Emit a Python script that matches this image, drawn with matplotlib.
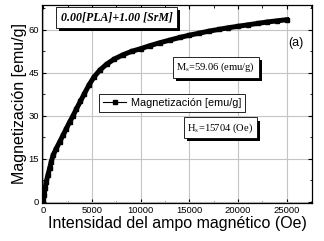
import matplotlib
matplotlib.use('Agg')
import matplotlib.pyplot as plt
import matplotlib.patheffects as pe
from matplotlib.lines import Line2D

# Data
field_oe = [0, 80, 200, 310, 480, 650, 820, 1000, 1330, 1680, 2020, 2360, 2700,
            3050, 3400, 3800, 4200, 4700, 5200, 5800, 6500, 7300, 8200, 9100,
            10000, 11000, 12000, 13000, 14000, 15000, 16000, 17000, 18000, 19000,
            20000, 21000, 22000, 23000, 24000, 25000]
magnetization = [0.5, 2.4, 4.8, 7.1, 9.4, 11.7, 14.0, 16.2, 18.6, 20.9, 23.2, 25.5, 27.8,
                 30.0, 32.4, 35.0, 37.6, 40.8, 43.5, 45.9, 48.0, 49.8, 51.3, 52.5,
                 53.4, 54.5, 55.5, 56.4, 57.3, 58.1, 58.8, 59.5, 60.1, 60.7,
                 61.2, 61.7, 62.2, 62.7, 63.1, 63.5]

x_ticks = [0, 5000, 10000, 15000, 20000, 25000]
y_ticks = [0, 15, 30, 45, 60]

plt.rcParams['font.family'] = ['Liberation Sans', 'DejaVu Sans']
plt.rcParams['mathtext.fontset'] = 'stix'

fig = plt.figure(figsize=(3.24, 2.41), dpi=100)
ax = fig.add_axes([0.1296, 0.158, 0.8334, 0.821])

ax.plot(field_oe, magnetization, color='black', lw=3.6, marker='s', ms=3.4,
        solid_joinstyle='round', zorder=3)

ax.set_xlim(-133, 27590)
ax.set_ylim(-0.35, 68.6)
ax.set_xticks(x_ticks)
ax.set_yticks(y_ticks)
ax.set_xticks([2500, 7500, 12500, 17500, 22500, 27500], minor=True)
ax.set_yticks([7.5, 22.5, 37.5, 52.5, 67.5], minor=True)
ax.tick_params(which='both', direction='in', top=True, right=True,
               labelsize=6.8, pad=2)
ax.tick_params(which='major', length=3, width=0.8)
ax.tick_params(which='minor', length=1.8, width=0.6)
ax.grid(True, which='major', color='#c4c4c4', lw=0.8)
ax.set_axisbelow(True)
for s in ax.spines.values():
    s.set_linewidth(0.9)

ax.set_xlabel('Intensidad del ampo magnético (Oe)', fontsize=11.5, labelpad=1)
ax.set_ylabel('Magnetización [emu/g]', fontsize=11.5, labelpad=1)

shadow = [pe.SimplePatchShadow(offset=(2.2, -2.2), shadow_rgbFace='black', alpha=1),
          pe.Normal()]


def shadow_box(x, y, text, **kw):
    t = ax.text(x, y, text, transform=ax.transAxes, ha='center', va='center',
                bbox=dict(boxstyle='square,pad=0.35', fc='white', ec='black', lw=0.6),
                zorder=6, **kw)
    t.get_bbox_patch().set_path_effects(shadow)
    return t


serif = ['Liberation Serif', 'DejaVu Serif']
shadow_box(0.276, 0.937, '0.00[PLA]+1.00 [SrM]', fontsize=8.6,
           family=serif, weight='bold', style='italic')
shadow_box(0.644, 0.684, r'M$_\mathrm{s}$=59.06 (emu/g)', fontsize=7.6,
           family=serif)
shadow_box(0.661, 0.379, r'H$_\mathrm{s}$=15704 (Oe)', fontsize=7.6,
           family=serif)

ax.text(0.941, 0.808, '(a)', transform=ax.transAxes, ha='center', va='center',
        fontsize=9)

handle = Line2D([], [], color='black', lw=0.8, marker='s', ms=3)
leg = ax.legend([handle], ['Magnetización [emu/g]'], loc='center',
                bbox_to_anchor=(0.481, 0.505), fontsize=7.8, fancybox=False,
                framealpha=1, edgecolor='black', handlelength=2.2,
                borderpad=0.35, handletextpad=0.4)
leg.get_frame().set_linewidth(0.6)
leg.set_zorder(7)

fig.savefig('out.png', dpi=100)
